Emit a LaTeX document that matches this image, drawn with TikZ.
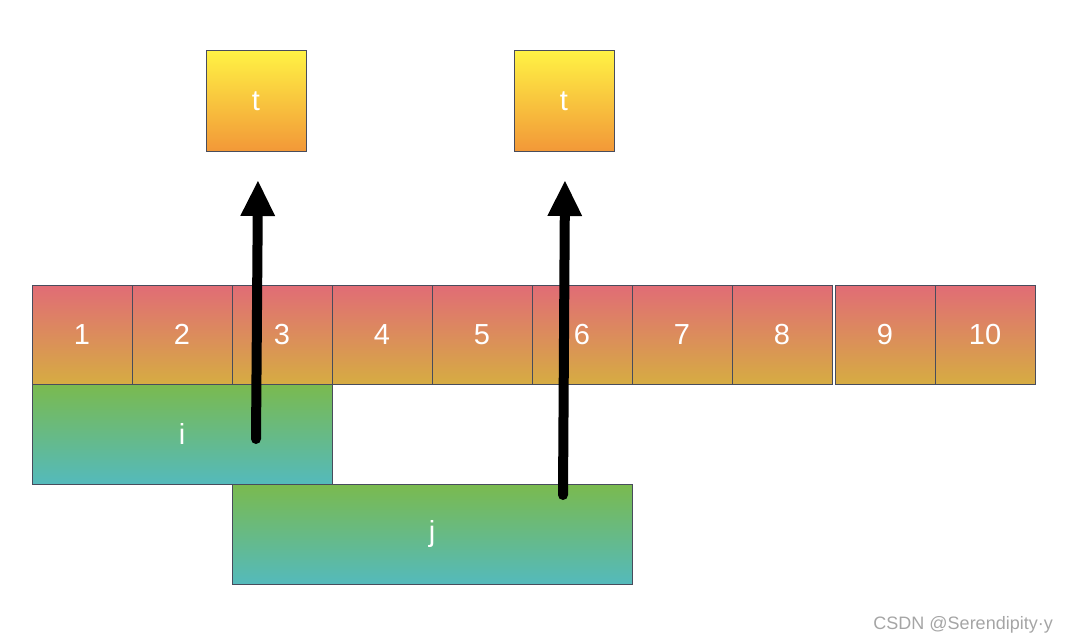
\documentclass[tikz,border=0pt]{standalone}
\usepackage{fontspec}
\setmainfont{Liberation Sans}
\usetikzlibrary{arrows.meta}
\definecolor{edgec}{RGB}{72,76,92}
\definecolor{celltop}{RGB}{225,108,118}
\definecolor{cellbot}{RGB}{214,172,66}
\definecolor{ttop}{RGB}{255,242,68}
\definecolor{tbot}{RGB}{242,152,56}
\definecolor{gtop}{RGB}{122,186,78}
\definecolor{gbot}{RGB}{84,186,188}
\definecolor{wm}{RGB}{165,165,165}
\tikzset{
  box/.style={draw=edgec, line width=1pt, inner sep=0pt, text=white,
    font=\fontsize{29}{34}\selectfont},
  cell/.style={box, top color=celltop, bottom color=cellbot,
    minimum width=100pt, minimum height=99pt},
  tbox/.style={box, top color=ttop, bottom color=tbot,
    minimum width=100pt, minimum height=100pt},
  rangebox/.style={box, top color=gtop, bottom color=gbot, minimum height=100pt},
  bigarrow/.style={line width=10pt, line cap=round,
    -{Triangle[length=36pt,width=32pt]}}
}
\begin{document}
\begin{tikzpicture}[x=1pt,y=-1pt]
\useasboundingbox (0,0) rectangle (1068,642);
% top t boxes
\node[tbox] (t1) at (256,101) {t};
\node[tbox] (t2) at (564,101) {t};
% cells
\node[cell] (c1) at (82,334.5) {1};
\node[cell] (c2) at (182,334.5) {2};
\node[cell] (c3) at (282,334.5) {3};
\node[cell] (c4) at (382,334.5) {4};
\node[cell] (c5) at (482,334.5) {5};
\node[cell] (c6) at (582,334.5) {6};
\node[cell] (c7) at (682,334.5) {7};
\node[cell] (c8) at (782,334.5) {8};
\node[cell] (c9) at (885,334.5) {9};
\node[cell] (c10) at (985,334.5) {10};
% ranges
\node[rangebox, minimum width=300pt] (ri) at (182,434) {i};
\node[rangebox, minimum width=400pt] (rj) at (432,534) {j};
% arrows
\coordinate (a1s) at (256,439);
\coordinate (a1e) at (258,180);
\coordinate (a2s) at (563,495);
\coordinate (a2e) at (565,180);
\draw[bigarrow] (a1s) -- (a1e);
\draw[bigarrow] (a2s) -- (a2e);
% watermark
\node[anchor=base east, text=wm, inner sep=0pt, font=\fontsize{18}{20}\selectfont] (wmk) at (1053,629) {CSDN @Serendipity·y};
\end{tikzpicture}
\end{document}
